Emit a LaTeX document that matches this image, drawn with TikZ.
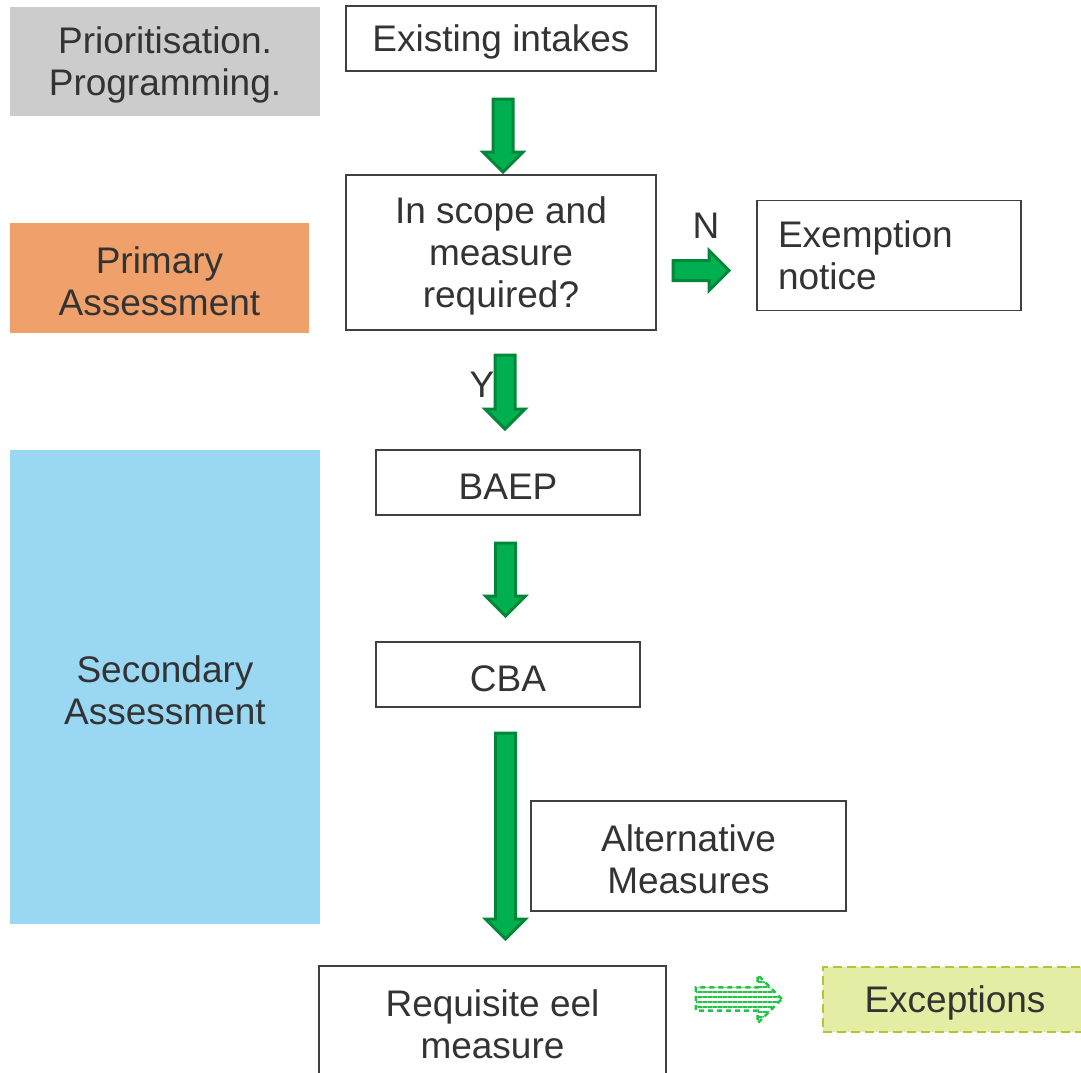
\documentclass[tikz,border=0pt]{standalone}
\usepackage{fontspec}
\setmainfont{Liberation Sans}
\usetikzlibrary{shapes.arrows}
\usetikzlibrary{patterns.meta}

\definecolor{txtgrey}{HTML}{333333}
\definecolor{boxline}{HTML}{404040}
\definecolor{stagegrey}{HTML}{CCCCCC}
\definecolor{stageorange}{HTML}{F0A06B}
\definecolor{stageblue}{HTML}{9AD7F2}
\definecolor{arrowdark}{HTML}{00873A}
\definecolor{arrowlight}{HTML}{00B050}
\definecolor{stripegreen}{HTML}{22C443}
\definecolor{excfill}{HTML}{E5ECA3}
\definecolor{excline}{HTML}{B3C534}

\tikzset{
  every node/.style={text=txtgrey, font=\fontsize{37}{42}\selectfont, inner sep=0pt},
  boxtop/.style={execute at begin node={\rule{0pt}{#1}}}, boxtop/.default=34pt,
  stage/.style={rectangle, align=center},
  flowbox/.style={rectangle, draw=boxline, line width=1.8pt, align=center},
  garrow/.style={single arrow, draw=arrowdark, fill=arrowlight, line width=3pt,
    inner sep=8.5pt, single arrow head extend=10pt},
}

\begin{document}
\begin{tikzpicture}[x=1pt, y=1pt]
\useasboundingbox (0,0) rectangle (1081,-1072);

% stages on the left
\node[stage, boxtop=76pt, fill=stagegrey, minimum width=310, minimum height=109] (prio) at (165,-61.5) {Prioritisation.\\Programming.};
\node[stage, boxtop=76pt, fill=stageorange, minimum width=299, minimum height=110] (primary) at (159.5,-278) {Primary\\Assessment};
\node[stage, boxtop=76pt, fill=stageblue, minimum width=310, minimum height=474] (secondary) at (165,-687) {Secondary\\Assessment};

% flow
\node[flowbox, boxtop, minimum width=310, minimum height=65] (intakes) at (501,-38.5) {Existing intakes};
\node[flowbox, boxtop=118pt, minimum width=310, minimum height=155] (scope) at (501,-252.5) {In scope and\\measure\\required?};
\node[flowbox, minimum width=264, minimum height=110, text width=222, inner xsep=21pt, align=left] (exemption) at (889,-255.5) {Exemption\\notice};
\node[flowbox, boxtop, minimum width=264, minimum height=65] (baep) at (508,-482.5) {BAEP};
\node[flowbox, boxtop, minimum width=264, minimum height=65] (cba) at (508,-674.5) {CBA};
\node[flowbox, boxtop=76pt, minimum width=315, minimum height=110] (alternative) at (688.5,-856) {Alternative\\Measures};
\node[flowbox, boxtop=76pt, minimum width=347, minimum height=110] (requisite) at (492.5,-1021) {Requisite eel\\measure};
\node[rectangle, boxtop, draw=excline, fill=excfill, line width=1.8pt, dashed, dash pattern=on 9pt off 5pt,
  minimum width=264, minimum height=65] (exceptions) at (955,-999.5) {Exceptions};

\node (no) at (706,-226) {N};
\node (yes) at (482,-385) {Y};

% block arrows
\foreach \x/\y/\h [count=\i] in {503/130.5/73, 505/387/74, 505.5/574.5/73, 505.5/831/206}
  \node[garrow, shape border rotate=270, minimum height=\h] (down\i) at (\x,-\y) {};
\node[garrow, minimum height=56] (right) at (696,-270.5) {};
\node[single arrow, draw=stripegreen, line width=2.5pt, dashed, dash pattern=on 5pt off 4pt,
  pattern={Lines[angle=0, distance=5pt, line width=2.2pt]}, pattern color=stripegreen,
  inner sep=10.5pt, minimum height=86, single arrow head extend=12.5pt] (stripe) at (733,-999) {};
\end{tikzpicture}
\end{document}
